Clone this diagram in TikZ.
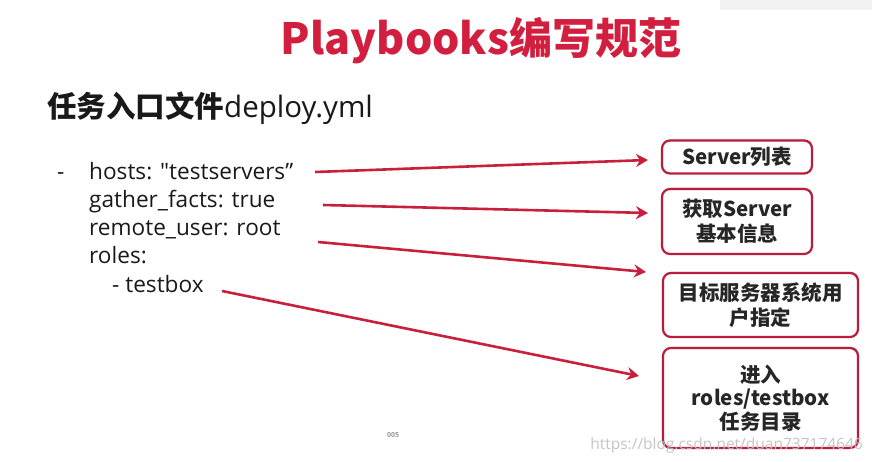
\documentclass[tikz,border=0pt]{standalone}
\usepackage{fontspec}
\setmainfont{Open Sans}
\newfontfamily\cjk{Noto Sans CJK SC}
\usetikzlibrary{arrows.meta,shadows}
\definecolor{crim}{HTML}{C8203C}
\definecolor{boxred}{HTML}{B81E3C}
\definecolor{titlered}{HTML}{D21F3F}
\tikzset{
  code/.style={anchor=base west,inner sep=0pt,font=\fontsize{22.6}{28}\selectfont,text=black!90},
  infobox/.style={draw=boxred,line width=2.2pt,rounded corners=8pt,fill=white,
    align=center,inner sep=2pt,font=\cjk\bfseries\fontsize{20.5}{25}\selectfont,text=black!85,
    drop shadow={opacity=0.25,shadow xshift=1pt,shadow yshift=1.5pt}},
  link/.style={draw=crim,line width=2.6pt,-{Stealth[length=12pt,width=13pt,inset=4pt]}}
}
\begin{document}
\begin{tikzpicture}[x=1pt,y=-1pt]
\useasboundingbox[fill=white] (0,0) rectangle (872,462);
\fill[black!5] (720,0) rectangle (872,10);
% title
\node[anchor=base,inner sep=0pt,text=titlered,font=\cjk\bfseries\fontsize{43}{50}\selectfont] (title) at (481,55) {Playbooks编写规范};
% subtitle
\node[anchor=base west,inner sep=0pt,font=\fontsize{29.5}{32}\selectfont,text=black!90] (sub) at (47,118) {{\cjk\bfseries 任务入口文件}deploy.yml};
% code
\node[code] (dash) at (57,180) {-};
\node[code] (l1) at (89,180) {hosts: \textquotedbl testservers”};
\node[code] (l2) at (89,208) {gather\_facts: true};
\node[code] (l3) at (89,236) {remote\_user: root};
\node[code] (l4) at (89,264) {roles:};
\node[code] (l5) at (112,292) {- testbox};
% boxes
\node[infobox,minimum width=150pt,minimum height=33pt] (b1) at (737,157) {Server列表};
\node[infobox,minimum width=150pt,minimum height=65pt] (b2) at (737,221.5) {获取Server\\基本信息};
\node[infobox,minimum width=195pt,minimum height=64pt] (b3) at (760.5,305) {目标服务器系统用\\户指定};
\node[infobox,minimum width=195pt,minimum height=100pt,font=\cjk\bfseries\fontsize{20.5}{23.5}\selectfont] (b4) at (760.5,398) {进入\\roles/testbox\\任务目录};
% connectors
\coordinate (s1) at (315,172);
\coordinate (s2) at (323,205);
\coordinate (s3) at (318,242);
\coordinate (s4) at (222,291);
\coordinate (e1) at (648,160);
\coordinate (e2) at (648,213);
\coordinate (e3) at (646,272);
\coordinate (e4) at (639,376);
\draw[link] (s1) -- (e1);
\draw[link] (s2) -- (e2);
\draw[link] (s3) -- (e3);
\draw[link] (s4) -- (e4);
% page number and watermark
\node[anchor=base,inner sep=0pt,font=\bfseries\fontsize{7}{8}\selectfont,text=black!40] (pg) at (393,437) {005};
\node[anchor=base east,inner sep=0pt,font=\fontsize{15.5}{18}\selectfont,text=black!25,opacity=0.9] (wm) at (863,449) {https://blog.csdn.net/duan737174646};
\end{tikzpicture}
\end{document}
